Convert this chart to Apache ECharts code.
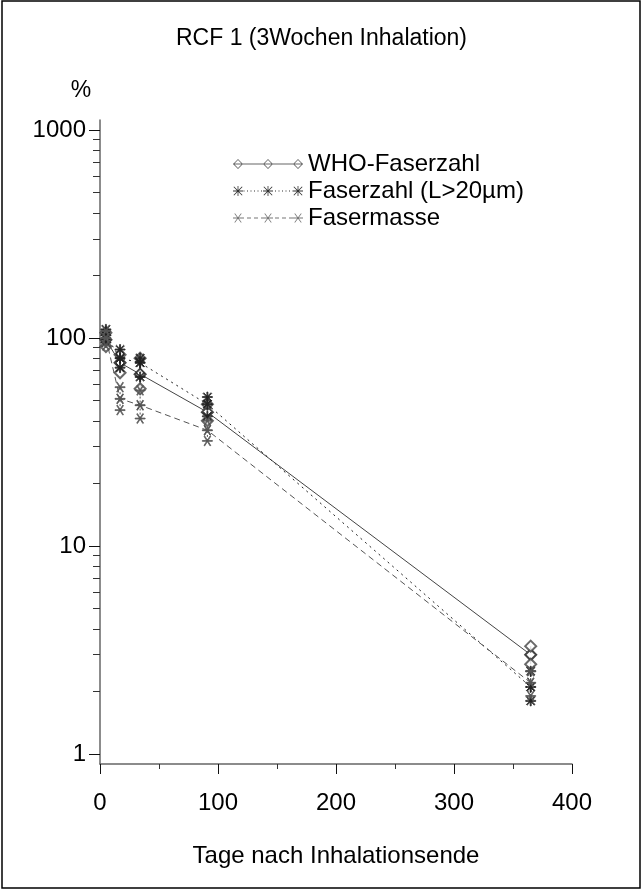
<!DOCTYPE html>
<html><head><meta charset="utf-8">
<script src="https://cdn.jsdelivr.net/npm/echarts@6/dist/echarts.min.js"></script>
<style>html,body{margin:0;padding:0;background:#fff}#c{width:643px;height:895px}</style>
</head><body><div id="c"></div>
<script>
const days = [5, 17, 34, 91, 365];
const whoMean = [98, 76, 67, 44, 3.0];
const whoLow = [91, 68, 57, 40, 2.7];
const whoHigh = [106, 83, 80, 48, 3.3];
const lzMean = [103, 80, 76, 48, 2.1];
const lzLow = [95, 72, 65, 42, 1.8];
const lzHigh = [110, 88, 80, 52, 2.5];
const massMean = [100, 51, 47.5, 36, 2.2];
const massLow = [92, 45, 41, 32, 1.9];
const massHigh = [108, 58, 56, 40, 2.5];
const yMajor = [1, 10, 100, 1000];
const yMinor = [2,3,4,5,6,7,8,9,20,30,40,50,60,70,80,90,200,300,400,500,600,700,800,900];
const names = ['WHO-Faserzahl', 'Faserzahl (L>20µm)', 'Fasermasse'];

const FONT = 'Liberation Sans, Arial, sans-serif';
const star8 = 'path://M9 0H11V20H9Z M0 9H20V11H0Z M1.4 2.8L2.8 1.4L18.6 17.2L17.2 18.6Z M17.2 1.4L18.6 2.8L2.8 18.6L1.4 17.2Z';
const star6 = 'path://M0 9.2H20V10.8H0Z M3.2 1.6L4.6 0.8L16.8 18.4L15.4 19.2Z M15.4 0.8L16.8 1.6L4.6 19.2L3.2 18.4Z';

// legend icon shapes (70 x 10 box): thin line sample with three markers
function diamondAt(cx) {
  return `M${cx} 0L${cx + 5} 5L${cx} 10L${cx - 5} 5Z M${cx} 1.1L${cx - 3.9} 5L${cx} 8.9L${cx + 3.9} 5Z`;
}
function star8At(cx) {
  const a = cx - 5, b = cx + 5;
  return `M${cx - 0.4} 0H${cx + 0.4}V10H${cx - 0.4}Z M${a} 4.6H${b}V5.4H${a}Z ` +
    `M${a + 0.5} 1.0L${a + 1.1} 0.4L${b - 0.5} 9.0L${b - 1.1} 9.6Z M${b - 1.1} 0.4L${b - 0.5} 1.0L${a + 1.1} 9.6L${a + 0.5} 9.0Z`;
}
function star6At(cx) {
  const a = cx - 5, b = cx + 5;
  return `M${a} 4.6H${b}V5.4H${a}Z ` +
    `M${a + 1.4} 0.8L${a + 2.0} 0.3L${b - 1.4} 9.2L${b - 2.0} 9.7Z M${b - 2.0} 0.3L${b - 1.4} 0.8L${a + 2.0} 9.7L${a + 1.4} 9.2Z`;
}
function lineSeg(kind) {
  let p = '';
  if (kind === 'solid') return 'M0 4.6H70V5.4H0Z';
  const dash = kind === 'dot' ? 1 : 4, step = kind === 'dot' ? 3.5 : 7;
  for (let x = 0; x < 70; x += step) p += `M${x} 4.6H${Math.min(70, x + dash)}V5.4H${x}Z `;
  return p;
}
const legendIcons = [
  'path://' + lineSeg('solid') + ' ' + diamondAt(5) + diamondAt(35) + diamondAt(65),
  'path://' + lineSeg('dot') + ' ' + star8At(5) + star8At(35) + star8At(65),
  'path://' + lineSeg('dash') + ' ' + star6At(5) + star6At(35) + star6At(65)
];

const defs = [
  {name: names[0], mean: whoMean, low: whoLow, high: whoHigh, symbol: 'emptyDiamond', size: 11, dash: 'solid', color: '#444', icon: '#666'},
  {name: names[1], mean: lzMean, low: lzLow, high: lzHigh, symbol: star8, size: 10, dash: [2, 4], color: '#222', icon: '#333'},
  {name: names[2], mean: massMean, low: massLow, high: massHigh, symbol: star6, size: 10, dash: [6, 4], color: '#555', icon: '#777'}
];

const series = [];
defs.forEach(d => {
  series.push({
    name: d.name, type: 'line', data: days.map((x, i) => [x, d.mean[i]]),
    symbol: d.symbol, symbolSize: d.size,
    lineStyle: {color: d.color, width: 1, type: d.dash},
    itemStyle: {color: d.color, borderColor: d.color, borderWidth: 1},
    z: 3
  });
  series.push({
    type: 'custom', silent: true, z: 2,
    data: days.map((x, i) => [x, d.low[i], d.high[i]]),
    encode: {x: 0, y: [1, 2]},
    renderItem: (params, api) => {
      const a = api.coord([api.value(0), api.value(1)]);
      const b = api.coord([api.value(0), api.value(2)]);
      return {type: 'line', shape: {x1: a[0], y1: a[1], x2: b[0], y2: b[1]},
        style: {stroke: d.color, lineWidth: 1, lineDash: d.dash === 'solid' ? null : [2, 2]}};
    }
  });
  series.push({
    type: 'scatter', silent: true, z: 3,
    data: days.map((x, i) => [x, d.low[i]]).concat(days.map((x, i) => [x, d.high[i]])),
    symbol: d.symbol, symbolSize: d.size,
    itemStyle: {color: d.color, borderColor: d.color, borderWidth: 1}
  });
});

const chart = echarts.init(document.getElementById('c'), null, {renderer: 'canvas'});
chart.setOption({
  backgroundColor: '#fff',
  animation: false,
  textStyle: {fontFamily: FONT, color: '#000'},
  title: {text: 'RCF 1 (3Wochen Inhalation)', left: 'center', top: 22,
    textStyle: {fontFamily: FONT, fontSize: 23, fontWeight: 'normal', color: '#000'}},
  legend: {
    data: names.map((n, i) => ({name: n, icon: legendIcons[i],
      itemStyle: {color: defs[i].icon, borderWidth: 0, borderColor: 'transparent'}})),
    orient: 'vertical', left: 228, top: 147,
    itemWidth: 70, itemHeight: 10, itemGap: 3,
    textStyle: {fontFamily: FONT, fontSize: 24, color: '#000'}
  },
  grid: {left: 100, right: 71, top: 120, bottom: 131},
  xAxis: {
    type: 'value', min: 0, max: 400, interval: 100,
    name: 'Tage nach Inhalationsende', nameLocation: 'middle', nameGap: 80,
    nameTextStyle: {fontFamily: FONT, fontSize: 24, color: '#000'},
    axisLine: {lineStyle: {color: '#666', width: 1.5}},
    axisTick: {show: true, length: 10, lineStyle: {color: '#111'}},
    minorTick: {show: true, splitNumber: 2, length: 5, lineStyle: {color: '#333'}},
    axisLabel: {fontFamily: FONT, fontSize: 24, color: '#000', margin: 27},
    splitLine: {show: false}
  },
  yAxis: [{
    type: 'log', min: 0.895, max: 1117, logBase: 10,
    name: '%', nameLocation: 'end', nameGap: 18,
    nameTextStyle: {fontFamily: FONT, fontSize: 23, color: '#000', padding: [0, 38, 0, 0]},
    axisLine: {show: true, lineStyle: {color: '#666', width: 1.5}},
    axisTick: {show: true, length: 11, customValues: yMajor, lineStyle: {color: '#111'}},
    axisLabel: {fontFamily: FONT, fontSize: 24, color: '#000', margin: 14, customValues: yMajor,
      formatter: v => String(Math.round(v))},
    splitLine: {show: false}
  }, {
    type: 'log', min: 0.895, max: 1117, logBase: 10, position: 'left',
    axisLine: {show: false},
    axisTick: {show: true, length: 7, customValues: yMinor, lineStyle: {color: '#333'}},
    axisLabel: {show: false},
    splitLine: {show: false}
  }],
  graphic: [{type: 'rect', shape: {x: 2, y: 1, width: 638, height: 887},
    style: {fill: 'none', stroke: '#000', lineWidth: 1.5}, silent: true}],
  series: series
});
</script></body></html>
